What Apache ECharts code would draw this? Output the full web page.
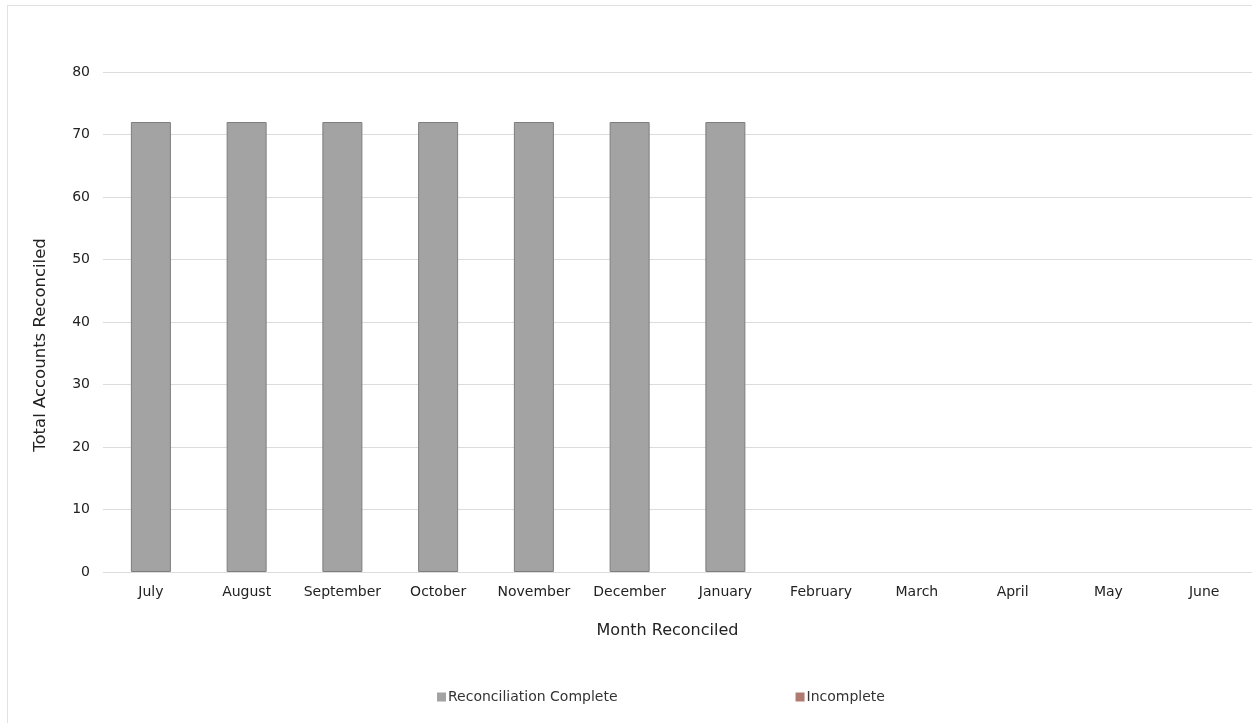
<!DOCTYPE html>
<html>
<head>
<meta charset="utf-8">
<script src="https://cdn.jsdelivr.net/npm/echarts@6/dist/echarts.min.js"></script>
<style>
  html, body { margin: 0; padding: 0; background: #fff; overflow: hidden; }
  #frame { position: absolute; left: 7px; top: 5px; width: 1260px; height: 730px; border: 1px solid #e2e2e2; }
  #chart { position: absolute; left: 0; top: 0; width: 1252px; height: 723px; }
</style>
</head>
<body>
<div id="frame"></div>
<div id="chart"></div>
<script>
  // 月份（财年从七月开始），二月以后尚未对账 -> null
  var months = ['July', 'August', 'September', 'October', 'November', 'December',
                'January', 'February', 'March', 'April', 'May', 'June'];
  var completeValues = [72, 72, 72, 72, 72, 72, 72, null, null, null, null, null];
  var incompleteValues = [0, 0, 0, 0, 0, 0, 0, null, null, null, null, null];
  var yTicks = [0, 10, 20, 30, 40, 50, 60, 70, 80];

  var myChart = echarts.init(document.getElementById('chart'));
  var font = 'DejaVu Sans, sans-serif';
  var option = {
    animation: false,
    textStyle: { fontFamily: font },
    grid: { left: 103, right: -1, top: 72, bottom: 151 },
    legend: {
      left: 432,
      top: 685,
      itemWidth: 9,
      itemHeight: 9,
      itemGap: 178,
      icon: 'rect',
      itemStyle: { borderWidth: 0 },
      textStyle: { fontSize: 14, color: '#333', padding: [0, 0, 0, -3] },
      data: ['Reconciliation Complete', 'Incomplete']
    },
    xAxis: {
      type: 'category',
      data: months,
      name: 'Month Reconciled',
      nameLocation: 'middle',
      nameGap: 51,
      nameTextStyle: { fontSize: 16, color: '#222', padding: [0, 20, 0, 0] },
      axisLine: { show: false },
      axisTick: { show: false },
      axisLabel: { fontSize: 14, color: '#222', margin: 13, interval: 0 }
    },
    yAxis: {
      type: 'value',
      min: yTicks[0],
      max: yTicks[yTicks.length - 1],
      interval: 10,
      name: 'Total Accounts Reconciled',
      nameLocation: 'middle',
      nameGap: 54,
      nameTextStyle: { fontSize: 16.5, color: '#222', padding: [0, 46, 0, 0] },
      axisLine: { show: false },
      axisTick: { show: false },
      axisLabel: { fontSize: 14, color: '#222', margin: 13 },
      splitLine: { lineStyle: { color: '#dcdcdc', width: 1 } }
    },
    series: [
      {
        name: 'Reconciliation Complete',
        type: 'bar',
        stack: 'total',
        barWidth: 40,
        data: completeValues,
        itemStyle: { color: '#a3a3a3', borderColor: '#7e7e7e', borderWidth: 1 }
      },
      {
        name: 'Incomplete',
        type: 'bar',
        stack: 'total',
        barWidth: 40,
        data: incompleteValues,
        itemStyle: { color: '#b07a70' }
      }
    ]
  };
  myChart.setOption(option);
</script>
</body>
</html>
